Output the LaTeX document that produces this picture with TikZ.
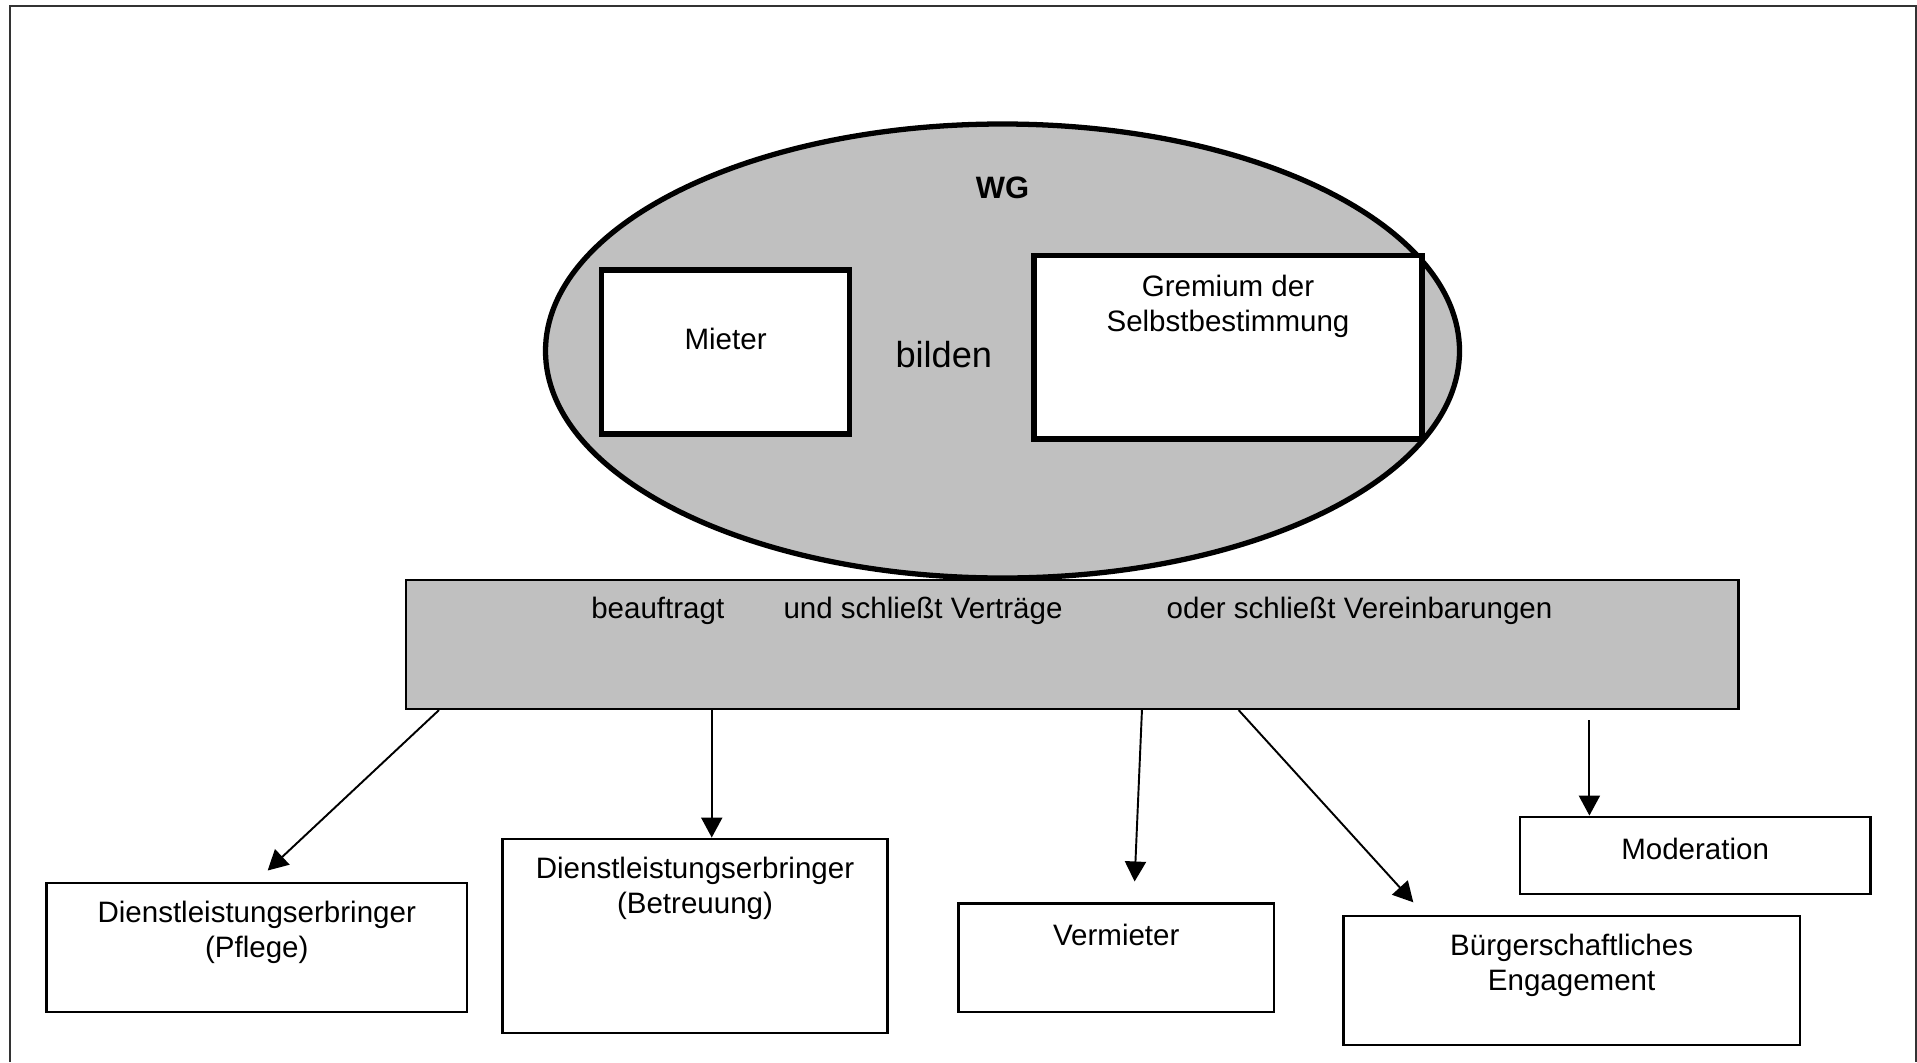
\documentclass[tikz,border=0pt]{standalone}
\usepackage{fontspec}
\setmainfont{Liberation Sans}
\usetikzlibrary{shapes.geometric,arrows.meta,positioning}
\definecolor{grau}{RGB}{192,192,192}
\definecolor{rahmen}{RGB}{51,51,51}

\tikzset{
	kasten/.style={draw, line width=0.65pt, fill=white, inner sep=0pt},
	dickkasten/.style={draw, line width=1.5pt, fill=white, inner sep=0pt},
	txt/.style={align=center, inner sep=0pt, font=\fontsize{8.4}{10.1}\selectfont},
	pfeil/.style={-{Triangle[length=5.7pt,width=6pt]}, line width=0.55pt},
}

\begin{document}
\begin{tikzpicture}
		\useasboundingbox (0,0) rectangle (19.17,-10.62);
		\draw[rahmen, line width=0.6pt] (0.10,-10.62) -- (0.10,-0.06) -- (19.16,-0.06) -- (19.16,-10.62);

			% band
			\node[draw, fill=grau, line width=0.6pt, minimum width=13.326cm, minimum height=1.295cm, inner sep=0pt] (band) at (10.722,-6.443) {};
			\node[txt] (beauftragt) at (6.578,-6.11) {beauftragt};
			\node[txt] (vertraege) at (9.23,-6.11) {und schließt Verträge};
			\node[txt] (vereinb) at (13.595,-6.11) {oder schließt Vereinbarungen};

			% WG
			\node[ellipse, draw, fill=grau, line width=1.5pt, minimum width=9.14cm, minimum height=4.54cm, inner sep=0pt] (wg) at (10.025,-3.51) {};
			\node[txt, font=\fontsize{8.8}{10}\selectfont\bfseries] (wgtext) at (10.025,-1.88) {WG};
			\node[dickkasten, minimum width=2.48cm, minimum height=1.64cm] (mieter) at (7.256,-3.52) {};
			\node[dickkasten, minimum width=3.879cm, minimum height=1.835cm] (gremium) at (12.28,-3.473) {};
			\node[txt] (mietertext) at ([yshift=-0.72cm]mieter.north) {Mieter};
			\node[txt] (gremiumtext) at ([yshift=-0.535cm]gremium.north) {Gremium der\\Selbstbestimmung};
			\node[txt, font=\fontsize{10.3}{12}\selectfont] (bilden) at (9.438,-3.545) {bilden};

			% kaesten unten
			\foreach \name/\x/\y/\w/\h/\off/\beschr in {
				pflege/2.5675/-9.475/4.205/1.296/0.51/{Dienstleistungserbringer\\(Pflege)},
				betreuung/6.95/-9.3585/3.851/1.943/0.51/{Dienstleistungserbringer\\(Betreuung)},
				vermieter/11.1625/-9.579/3.155/1.088/0.33/{Vermieter},
				buerger/15.7165/-9.805/4.561/1.296/0.51/{Bürgerschaftliches\\Engagement},
				moderation/16.9515/-8.552/3.509/0.77/0.33/{Moderation}} {

				\node[kasten, minimum width=\w cm, minimum height=\h cm] (\name) at (\x,\y) {};
				\node[txt] (\name-t) at ([yshift=-\off cm]\name.north) {\beschr};
			}

			% pfeile
			\coordinate (b1) at ([xshift=0.341cm]band.south west);
			\coordinate (b2) at ([xshift=3.069cm]band.south west);
			\coordinate (b3) at ([xshift=7.371cm]band.south west);
			\coordinate (b4) at ([xshift=8.338cm]band.south west);
			\coordinate (b5) at (15.894,-7.20);
			\coordinate (e1) at (2.677,-8.705);
			\coordinate (e3) at (11.346,-8.815);
			\coordinate (e4) at (14.133,-9.023);
			\draw[pfeil] (b1) -- (e1);
			\draw[pfeil] (b2) -- (b2 |- betreuung.north);
			\draw[pfeil] (b3) -- (e3);
			\draw[pfeil] (b4) -- (e4);
			\draw[pfeil] (b5) -- (b5 |- moderation.north);
		\end{tikzpicture}
\end{document}
